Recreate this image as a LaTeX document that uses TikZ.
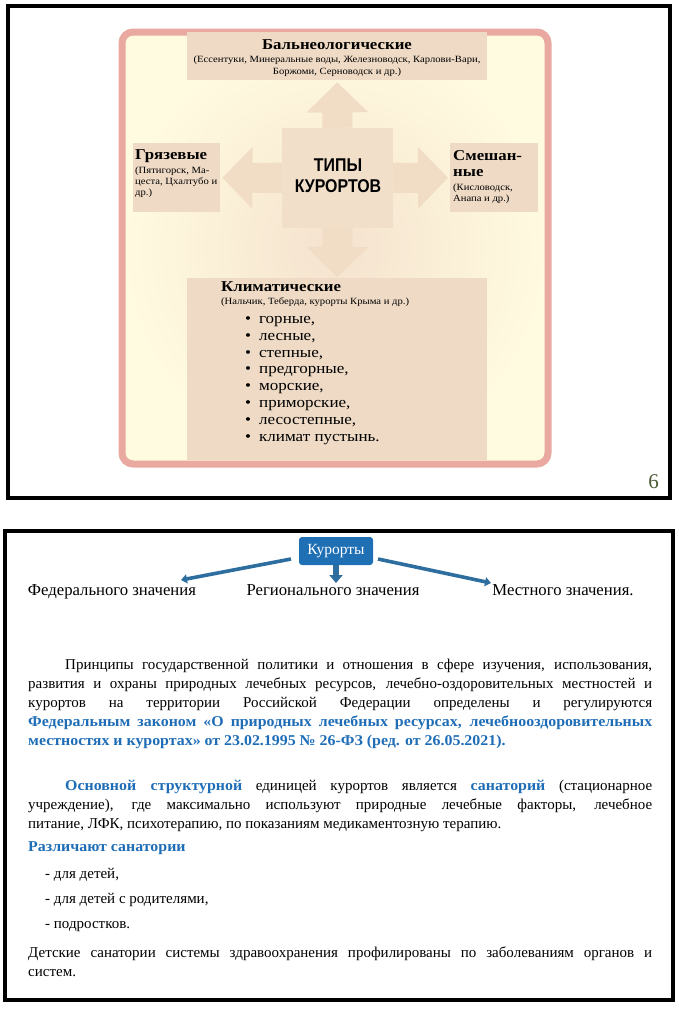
\documentclass[tikz,border=0pt]{standalone}
\usepackage{fontspec}
\setmainfont{Liberation Serif}[BoldFeatures={FakeStretch=1.06}]
\newfontfamily\sansf{Liberation Sans}[FakeStretch=0.86]
\newfontfamily\wser{Liberation Serif}[FakeStretch=1.12]
\usetikzlibrary{arrows.meta}
\definecolor{pinkb}{HTML}{E9A9A1}
\definecolor{creamb}{HTML}{FFFBE0}
\definecolor{peachc}{HTML}{F5E2CE}
\definecolor{tanbox}{HTML}{EEDAC5}
\definecolor{arrowp}{HTML}{F1DCC6}
\definecolor{kblue}{HTML}{1F6FB5}
\definecolor{tblue}{HTML}{1E6DB6}
\definecolor{arrb}{HTML}{2D6E9F}
\definecolor{numg}{HTML}{4A5A34}
\newcommand{\bl}[1]{{\bfseries\color{tblue}#1}}
\newcommand{\jline}[2]{\makebox[#1][s]{#2}}
\tikzset{
  frameline/.style={line width=3.2pt,line cap=round},
  tanb/.style={fill=tanbox,inner sep=0pt,anchor=north west},
  bigarrow/.style={arrowp,line width=30pt,-{Triangle[length=30pt,width=60pt]}},
  blarrow/.style={arrb,line width=3.6pt,-{Triangle[length=6pt,width=9pt]}},
  midarrow/.style={arrb,line width=5.5pt,-{Triangle[length=8pt,width=13pt]}},
  body/.style={inner sep=0pt,anchor=north west,align=left,font=\fontsize{15}{19}\selectfont},
  bodyb/.style={inner sep=0pt,anchor=base west,font=\fontsize{15}{19}\selectfont},
  head/.style={font=\wser\bfseries\fontsize{15}{15}\selectfont,inner sep=0pt},
  sub/.style={font=\wser\fontsize{9.5}{11}\selectfont,inner sep=0pt},
  lab/.style={font=\fontsize{16.7}{17}\selectfont,inner sep=0pt,anchor=base},
}
\begin{document}
\begin{tikzpicture}[x=1pt,y=-1pt]
\useasboundingbox (0,0) rectangle (679,1031);
% ---------- top panel frame
\draw[frameline] (8,6) -- (670,6) -- (670,498) -- (8,498) -- cycle;
% pink frame with gradient
\shade[inner color=peachc,outer color=creamb,rounded corners=11pt] (122,32) rectangle (548,464);
\draw[pinkb,line width=7pt,rounded corners=11pt] (122,32) rectangle (548,464);
% boxes
\node[tanb,minimum width=300pt,minimum height=48pt] (bal) at (187,32) {};
\node[tanb,minimum width=87pt,minimum height=69pt] (grz) at (133,143) {};
\node[tanb,minimum width=88pt,minimum height=69pt] (sme) at (450,143) {};
\node[tanb,minimum width=300pt,minimum height=182pt] (kli) at (187,278) {};
\node[fill=peachc!60!tanbox,minimum width=111pt,minimum height=100pt,inner sep=0pt] (ctr) at (337.5,178) {};
% big arrows
\draw[bigarrow] (ctr.north) -- ([yshift=-2pt]bal.south);
\draw[bigarrow] (ctr.south) -- ([yshift=1pt]kli.north);
\draw[bigarrow] (ctr.west) -- ([xshift=2pt]grz.east);
\draw[bigarrow] (ctr.east) -- ([xshift=-2pt]sme.west);
% texts
\node[font=\sansf\bfseries\fontsize{18.5}{21}\selectfont,align=center] (ctrt) at (338,176) {ТИПЫ\\КУРОРТОВ};
\node[head] (balt) at (337,45) {Бальнеологические};
\node[sub,font=\wser\fontsize{9.5}{12}\selectfont,align=center,anchor=north] (bals) at (337,55.5) {(Ессентуки, Минеральные воды, Железноводск, Карлови-Вари,\\Боржоми, Серноводск и др.)};
\node[head,anchor=west] (grzt) at (135,156) {Грязевые};
\node[sub,align=left,anchor=north west] (grzs) at (135,167) {(Пятигорск, Ма-\\цеста, Цхалтубо и\\др.)};
\node[head,font=\wser\bfseries\fontsize{15}{16}\selectfont,align=left,anchor=north west] (smet) at (453,150) {Смешан-\\ные};
\node[sub,align=left,anchor=north west] (smes) at (453,183.5) {(Кисловодск,\\Анапа и др.)};
\node[head,anchor=west] (klit) at (221,287) {Климатические};
\node[sub,anchor=west] (klis) at (221,302) {(Нальчик, Теберда, курорты Крыма и др.)};
\node[font=\wser\fontsize{15.2}{16.86}\selectfont,align=left,anchor=north west,inner sep=0pt] (klil) at (245,316) {%
\textbullet\hspace{8pt}горные,\\
\textbullet\hspace{8pt}лесные,\\
\textbullet\hspace{8pt}степные,\\
\textbullet\hspace{8pt}предгорные,\\
\textbullet\hspace{8pt}морские,\\
\textbullet\hspace{8pt}приморские,\\
\textbullet\hspace{8pt}лесостепные,\\
\textbullet\hspace{8pt}климат пустынь.};
\node[font=\fontsize{21}{21}\selectfont,text=numg,anchor=east,inner sep=0pt] (num) at (659,482) {6};
% ---------- bottom panel
\draw[frameline] (5,531) -- (673,531) -- (673,1000) -- (5,1000) -- cycle;
\node[fill=kblue,rounded corners=3pt,text=white,minimum width=74pt,minimum height=28pt,inner sep=0pt,font=\fontsize{15.5}{15.5}\selectfont] (kur) at (336,551) {Курорты};
\node[lab] (fed) at (112,595) {Федерального значения};
\node[lab] (reg) at (333,595) {Регионального значения};
\node[lab] (mes) at (563,595) {Местного значения.};
\coordinate (kl) at (291,559);
\coordinate (kr) at (378,559);
\coordinate (fedtip) at (181,580);
\coordinate (regtip) at (336,583);
\coordinate (mestip) at (491,583);
\draw[blarrow] (kl) -- (fedtip);
\draw[midarrow] (kur.south) -- (regtip);
\draw[blarrow] (kr) -- (mestip);
% paragraph 1
\node[body] (p1) at (28,659) {%
\hspace*{37pt}\jline{587pt}{Принципы государственной политики и отношения в сфере изучения, использования,}\\
\jline{624pt}{развития и охраны природных лечебных ресурсов, лечебно-оздоровительных местностей и}\\
\jline{624pt}{курортов на территории Российской Федерации определены и регулируются}\\
\jline{624pt}{\bl{Федеральным законом «О природных лечебных ресурсах, лечебнооздоровительных}}\\
\bl{местностях и курортах» от 23.02.1995 № 26-ФЗ (ред. от 26.05.2021).}};
% paragraph 2
\node[body] (p2) at (28,780) {%
\hspace*{37pt}\jline{587pt}{\bl{Основной структурной} единицей курортов является \bl{санаторий} (стационарное}\\
\jline{624pt}{учреждение), где максимально используют природные лечебные факторы, лечебное}\\
питание, ЛФК, психотерапию, по показаниям медикаментозную терапию.};
\node[bodyb] (p3) at (28,851) {\bl{Различают санатории}};
\node[bodyb] (l1) at (45,878) {- для детей,};
\node[bodyb] (l2) at (45,903) {- для детей с родителями,};
\node[bodyb] (l3) at (45,928) {- подростков.};
\node[body] (p4) at (28,947) {%
\jline{624pt}{Детские санатории системы здравоохранения профилированы по заболеваниям органов и}\\
систем.};
\end{tikzpicture}
\end{document}
